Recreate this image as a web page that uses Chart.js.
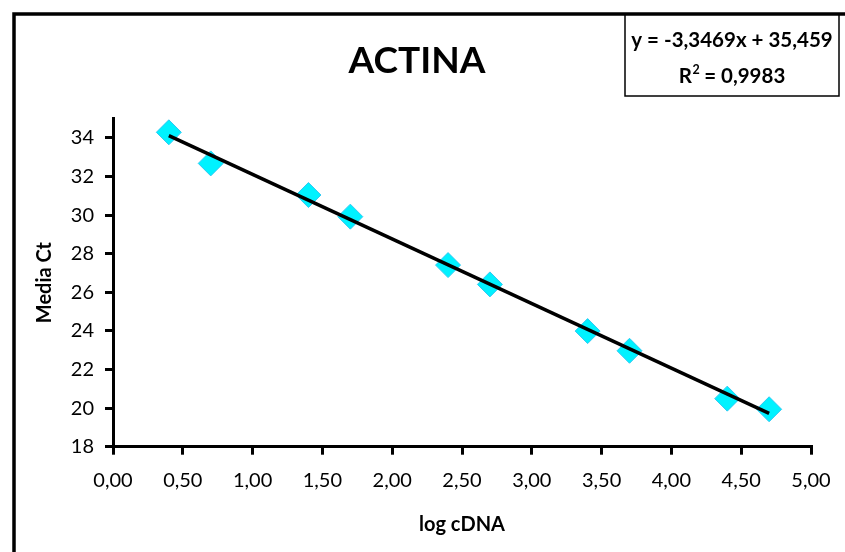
<!DOCTYPE html>
<html>
<head>
<meta charset="utf-8">
<script src="https://cdn.jsdelivr.net/npm/chart.js@4/dist/chart.umd.min.js"></script>
<style>
  html, body { margin: 0; padding: 0; background: #fff; }
  #wrap { position: relative; width: 845px; height: 552px; }
  canvas { display: block; }
</style>
</head>
<body>
<div id="wrap"><canvas id="c" width="845" height="552"></canvas></div>
<script>
// ---- data ----
const logCDNA = [0.4, 0.7, 1.4, 1.7, 2.4, 2.7, 3.4, 3.7, 4.4, 4.7];
const mediaCt = [34.29, 32.68, 31.04, 29.92, 27.41, 26.41, 23.99, 22.97, 20.49, 19.94];
const trendX = [0.4, 4.7];
const trendY = [34.12, 19.73];
const xTickValues = [0, 0.5, 1, 1.5, 2, 2.5, 3, 3.5, 4, 4.5, 5];
const yTickValues = [18, 20, 22, 24, 26, 28, 30, 32, 34];
const chartTitle = 'ACTINA';
const xTitle = 'log cDNA';
const yTitle = 'Media Ct';
const equationText = 'y = -3,3469x + 35,459';
const r2Value = '0,9983';

const FONT = 'Lato, "Open Sans", sans-serif';

const decor = {
  id: 'decor',
  afterDraw(chart) {
    const ctx = chart.ctx;
    ctx.save();
    // outer chart border (extends past the visible window)
    ctx.strokeStyle = '#000';
    ctx.lineWidth = 3.5;
    ctx.strokeRect(14, 14, 900, 600);
    // title
    ctx.fillStyle = '#000';
    ctx.font = 'bold 37px ' + FONT;
    ctx.textAlign = 'center';
    ctx.textBaseline = 'alphabetic';
    ctx.fillText(chartTitle, 417, 72.5);
    // equation box
    ctx.lineWidth = 1.5;
    ctx.fillStyle = '#fff';
    ctx.fillRect(625, 15, 214, 81);
    ctx.strokeRect(625, 15, 214, 81);
    ctx.fillStyle = '#000';
    ctx.font = 'bold 20.5px ' + FONT;
    ctx.fillText(equationText, 732, 47);
    // R² line
    const partR = 'R', part2 = '2', partRest = ' = ' + r2Value;
    ctx.font = 'bold 20.5px ' + FONT;
    const wR = ctx.measureText(partR).width;
    const wRest = ctx.measureText(partRest).width;
    ctx.font = 'bold 12.5px ' + FONT;
    const w2 = ctx.measureText(part2).width;
    const total = wR + w2 + wRest;
    let x0 = 732 - total / 2;
    ctx.textAlign = 'left';
    ctx.font = 'bold 20.5px ' + FONT;
    ctx.fillText(partR, x0, 83);
    ctx.font = 'bold 12.5px ' + FONT;
    ctx.fillText(part2, x0 + wR + 0.5, 74);
    ctx.font = 'bold 20.5px ' + FONT;
    ctx.fillText(partRest, x0 + wR + w2, 83);
    ctx.restore();
  }
};

new Chart(document.getElementById('c'), {
  type: 'scatter',
  data: {
    datasets: [
      {
        type: 'line',
        data: trendX.map((x, i) => ({ x: x, y: trendY[i] })),
        borderColor: '#000',
        borderWidth: 3.5,
        pointRadius: 0,
        fill: false,
        order: 0
      },
      {
        data: logCDNA.map((x, i) => ({ x: x, y: mediaCt[i] })),
        pointStyle: 'rectRot',
        pointRadius: 12.5,
        pointHoverRadius: 12.5,
        backgroundColor: '#00F2FF',
        borderColor: '#2FC8F2',
        borderWidth: 1,
        order: 1
      }
    ]
  },
  options: {
    responsive: false,
    animation: false,
    events: [],
    layout: { padding: { left: 0, right: 34, top: 118.6, bottom: 0 } },
    plugins: {
      legend: { display: false },
      tooltip: { enabled: false },
      title: { display: false }
    },
    scales: {
      x: {
        type: 'linear',
        min: 0,
        max: 5,
        afterFit(scale) { scale.height = 552 - 446.7; },
        afterBuildTicks(scale) { scale.ticks = xTickValues.map(v => ({ value: v })); },
        border: { display: true, color: '#000', width: 3 },
        grid: { display: true, drawOnChartArea: false, drawTicks: true, tickLength: 8, color: '#000', lineWidth: 3 },
        ticks: {
          color: '#000',
          font: { family: FONT, size: 20 },
          padding: 14,
          maxRotation: 0,
          autoSkip: false,
          callback: v => v.toFixed(2).replace('.', ',')
        },
        title: {
          display: true,
          text: xTitle,
          color: '#000',
          font: { family: FONT, size: 20, weight: 'bold' },
          padding: { top: 0, bottom: 15 }
        }
      },
      y: {
        type: 'linear',
        min: 18,
        max: 35,
        afterFit(scale) { scale.width = 113; },
        afterBuildTicks(scale) { scale.ticks = yTickValues.map(v => ({ value: v })); },
        border: { display: true, color: '#000', width: 3 },
        grid: { display: true, drawOnChartArea: false, drawTicks: true, tickLength: 8, color: '#000', lineWidth: 3 },
        ticks: {
          color: '#000',
          font: { family: FONT, size: 20 },
          padding: 11,
          autoSkip: false
        },
        title: {
          display: true,
          text: yTitle,
          color: '#000',
          font: { family: FONT, size: 20, weight: 'bold' },
          padding: { top: 33, bottom: 0 }
        }
      }
    }
  },
  plugins: [decor]
});
</script>
</body>
</html>
